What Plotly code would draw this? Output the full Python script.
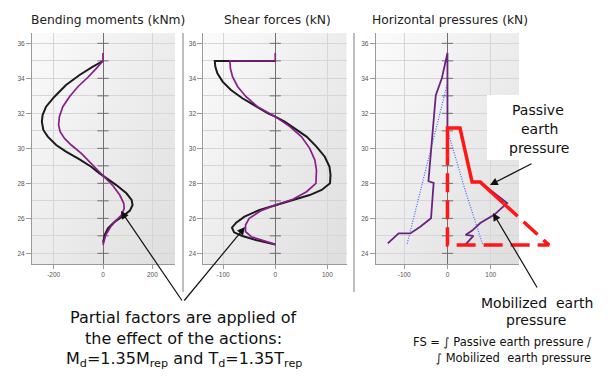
import base64
import plotly.graph_objects as go

W, H = 609, 380

# ------------------------------------------------------------------ data
depth_tick_vals = [24, 26, 28, 30, 32, 34, 36]
depth_tick_text = ["24", "26", "28", "30", "32", "34", "36"]
unit_depths = [24, 25, 26, 27, 28, 29, 30, 31, 32, 33, 34, 35, 36]
zero_x = [0] * len(unit_depths)

bm_tick_vals = [-200, 0, 200]
bm_tick_text = ["-200", "0", "200"]
sf_tick_vals = [-100, 0, 100]
sf_tick_text = ["-100", "0", "100"]
hp_tick_vals = [-100, 0, 100]
hp_tick_text = ["-100", "0", "100"]

# Bending moments (kNm) - design (black) and representative (purple)
bm_design_x = [0, -41, -95, -150, -197, -231, -245, -248, -242, -224, -190, -150, -95, -48,
               -14, 14, 54, 95, 116, 120, 109, 82, 48, 20, 7, 0]
bm_design_y = [34.99, 34.67, 34.19, 33.62, 32.95, 32.38, 31.90, 31.52, 31.05, 30.67, 30.19,
               29.81, 29.37, 28.95, 28.57, 28.29, 27.90, 27.43, 27.05, 26.76, 26.44, 26.13,
               25.81, 25.43, 25.05, 24.60]
bm_rep_x = [0, 0, -27, -61, -102, -136, -163, -177, -180, -174, -156, -129, -88, -48, -14,
            14, 41, 68, 84, 86, 75, 54, 31, 11, 3, 0]
bm_rep_y = [35.45, 34.99, 34.57, 34.06, 33.52, 32.95, 32.38, 31.81, 31.33, 30.95, 30.57,
            30.19, 29.71, 29.14, 28.67, 28.29, 27.85, 27.33, 26.86, 26.57, 26.19, 25.90,
            25.52, 25.05, 24.67, 24.48]

# Shear forces (kN)
sf_design_x = [0, -116, -115, -111, -101, -85, -63, -37, -14, 0, 18, 37, 60, 79, 95, 104,
               106, 105, 89, 66, 34, 0, -30, -59, -75, -83, -79, -63, -37, 0]
sf_design_y = [34.99, 34.99, 34.67, 34.29, 33.81, 33.33, 32.86, 32.38, 32.00, 31.81, 31.52,
               31.14, 30.67, 30.10, 29.52, 28.95, 28.48, 28.00, 27.62, 27.33, 27.05, 26.76,
               26.48, 26.10, 25.75, 25.47, 25.20, 24.99, 24.76, 24.51]
sf_rep_x = [0, 0, -87, -86, -82, -72, -56, -34, 0, 28, 50, 66, 76, 79, 78, 60, 34, 0, -27,
            -50, -57, -57, -46, -24, 0]
sf_rep_y = [35.45, 34.99, 34.99, 34.57, 34.10, 33.52, 32.95, 32.38, 31.81, 31.24, 30.67,
            30.00, 29.33, 28.76, 28.00, 27.52, 27.09, 26.76, 26.44, 26.00, 25.62, 25.24,
            24.95, 24.72, 24.51]

# Horizontal pressures (kN)
hp_net_x = [-138, -113, -86, -63, -38, -32, -44, -27, -13, -1, 0, 0, 29, 57, 76, 138, 108,
            76, 57, 42, 60, 41]
hp_net_y = [24.57, 25.14, 25.14, 25.52, 26.00, 28.02, 28.12, 33.04, 34.00, 35.45, 35.45,
            31.16, 31.16, 28.07, 28.07, 26.87, 26.20, 25.73, 25.30, 25.05, 25.00, 24.48]
hp_active_x = [-1, -36, -94]
hp_active_y = [33.62, 30.20, 24.47]
hp_passive_line_x = [2, 41, 82]
hp_passive_line_y = [30.87, 27.60, 24.47]

# Passive earth pressure diagram (red)
passive_solid_x = [0, 0, 29, 57, 76, 130]
passive_solid_y = [29.60, 31.16, 31.16, 28.07, 28.07, 26.85]
passive_dash_x = [130, 235, 0, 0]
passive_dash_y = [26.85, 24.47, 24.47, 29.60]

# ------------------------------------------------------------------ layout helpers
def fx(p):
    return p / W


def fy(p):
    return 1 - p / H


Y_TOP, Y_BOT = 33, 264
P1 = (32, 175)
P2 = (203.3, 346.7)
P3 = (375.7, 519)
P4_RIGHT = 565

y_range = [23.39, 36.59]
bm_range = [-288, 292]
sf_range = [-138, 137]
hp_range = [-166, 165.5]
hp_scale = (hp_range[1] - hp_range[0]) / (P3[1] - P3[0])
hp_wide_range = [hp_range[0], hp_range[0] + hp_scale * (P4_RIGHT - P3[0])]

BLACK = "#1b1b1b"
PURPLE = "#8c1c8c"
PURPLE_DARK = "#6a2281"
BLUE = "#4a63ff"
RED = "#ff1616"
GRID = "#d6d6d6"
AXIS = "#9a9a9a"
ZERO = "#6f6f6f"

fig = go.Figure()


def add_line(x, y, xa, ya, color, width, dash=None):
    fig.add_trace(go.Scatter(x=x, y=y, xaxis=xa, yaxis=ya, mode="lines",
                             line=dict(color=color, width=width, dash=dash),
                             hoverinfo="skip", showlegend=False))


def add_zero_ticks(xa, ya):
    fig.add_trace(go.Scatter(x=zero_x, y=unit_depths, xaxis=xa, yaxis=ya, mode="markers",
                             marker=dict(symbol="line-ew", size=8,
                                         line=dict(color=ZERO, width=1)),
                             hoverinfo="skip", showlegend=False))


# Panel 1
add_zero_ticks("x", "y")
add_line(bm_design_x, bm_design_y, "x", "y", BLACK, 2)
add_line(bm_rep_x, bm_rep_y, "x", "y", PURPLE, 1.7)
# Panel 2
add_zero_ticks("x2", "y2")
add_line(sf_design_x, sf_design_y, "x2", "y2", BLACK, 2)
add_line(sf_rep_x, sf_rep_y, "x2", "y2", PURPLE, 1.7)
# Panel 3
add_zero_ticks("x3", "y3")
add_line(hp_active_x, hp_active_y, "x3", "y3", BLUE, 1.2, "1px,1.5px")
add_line(hp_passive_line_x, hp_passive_line_y, "x3", "y3", BLUE, 1.2, "1px,1.5px")
add_line(hp_net_x, hp_net_y, "x3", "y3", PURPLE_DARK, 1.8)
# Passive diagram on a wider, invisible overlay subplot (extends past panel 3)
add_line(passive_dash_x, passive_dash_y, "x4", "y4", RED, 3.5, "19px,8px")
add_line(passive_solid_x, passive_solid_y, "x4", "y4", RED, 3.5)

tick_font = dict(family="Liberation Sans", size=6.5, color="#555555")


def xaxis(dom, rng, vals, text):
    return dict(domain=[fx(dom[0]), fx(dom[1])], range=rng, tickvals=vals, ticktext=text,
                showgrid=True, gridcolor=GRID, gridwidth=1, zeroline=True,
                zerolinecolor=ZERO, zerolinewidth=1, showline=True, linecolor=AXIS,
                linewidth=1, ticks="outside", ticklen=4, tickcolor=AXIS,
                tickfont=tick_font, fixedrange=True)


def yaxis(anchor):
    return dict(domain=[fy(Y_BOT), fy(Y_TOP)], range=y_range, anchor=anchor,
                tickvals=depth_tick_vals, ticktext=depth_tick_text, showgrid=True,
                gridcolor=GRID, gridwidth=1, minor=dict(dtick=1, showgrid=True,
                                                       gridcolor=GRID, gridwidth=1),
                zeroline=False, showline=True, linecolor=AXIS, linewidth=1,
                ticks="outside", ticklen=5, tickcolor=AXIS, tickfont=tick_font,
                fixedrange=True)


svg = ('<svg xmlns="http://www.w3.org/2000/svg" width="100" height="100" '
       'preserveAspectRatio="none"><defs><linearGradient id="g" x1="0" y1="0" x2="1" '
       'y2="1"><stop offset="0" stop-color="#fbfbfb"/><stop offset="1" '
       'stop-color="#dedede"/></linearGradient></defs><rect width="100" height="100" '
       'fill="url(#g)"/></svg>')
grad_src = "data:image/svg+xml;base64," + base64.b64encode(svg.encode()).decode()

images = []
for dom in (P1, P2, P3):
    images.append(dict(source=grad_src, xref="paper", yref="paper", x=fx(dom[0]),
                       y=fy(Y_TOP), sizex=fx(dom[1]) - fx(dom[0]),
                       sizey=fy(Y_TOP) - fy(Y_BOT), xanchor="left", yanchor="top",
                       sizing="stretch", layer="below"))

shapes = [
    dict(type="line", xref="paper", yref="paper", x0=fx(183), x1=fx(183), y0=fy(33),
         y1=fy(292), line=dict(color="#a8a8a8", width=1.5)),
    dict(type="line", xref="paper", yref="paper", x0=fx(354), x1=fx(354), y0=fy(33),
         y1=fy(292), line=dict(color="#a8a8a8", width=1.5)),
    dict(type="rect", xref="paper", yref="paper", x0=fx(487), x1=fx(592), y0=fy(160),
         y1=fy(95), fillcolor="white", line=dict(width=0), layer="above"),
]

FONT = "DejaVu Sans"


def text(s, x, y, size, xanchor="center", color="#111111"):
    return dict(text=s, xref="paper", yref="paper", x=fx(x), y=fy(y), xanchor=xanchor,
                yanchor="middle", showarrow=False, font=dict(family=FONT, size=size,
                                                             color=color))


def arrow(tip, tail):
    return dict(text="", xref="paper", yref="paper", x=fx(tip[0]), y=fy(tip[1]),
                ax=tail[0] - tip[0], ay=tail[1] - tip[1], showarrow=True, arrowhead=2,
                arrowsize=1.3, arrowwidth=1.2, arrowcolor="#111111", standoff=0)


annotations = [
    text("Bending moments (kNm)", 108, 20, 12.3, color="#222222"),
    text("Shear forces (kN)", 277.5, 20, 12.3, color="#222222"),
    text("Horizontal pressures (kN)", 449.5, 20, 12.3, color="#222222"),
    text("Passive", 538, 110, 14),
    text("earth", 539, 129, 14),
    text("pressure", 539, 148, 14),
    text("Partial factors are applied of", 183, 317, 16),
    text("the effect of the actions:", 183, 338.5, 16),
    text("M<sub>d</sub>=1.35M<sub>rep</sub> and T<sub>d</sub>=1.35T<sub>rep</sub>", 184,
         359, 16),
    text("Mobilized\u00a0 earth", 536.5, 303, 14),
    text("pressure", 536, 320, 14),
    text("FS = \u222b Passive earth pressure /", 593, 342, 11.5, xanchor="right"),
    text("\u222b Mobilized\u00a0 earth pressure", 593, 358, 11.5, xanchor="right"),
    arrow((121, 211), (183, 302)),
    arrow((245, 227), (183, 302)),
    arrow((490, 185), (533, 163)),
    arrow((493, 213), (538, 289)),
]

fig.update_layout(
    width=W, height=H, margin=dict(l=0, r=0, t=0, b=0),
    paper_bgcolor="white", plot_bgcolor="rgba(0,0,0,0)", showlegend=False,
    xaxis=xaxis(P1, bm_range, bm_tick_vals, bm_tick_text), yaxis=yaxis("x"),
    xaxis2=xaxis(P2, sf_range, sf_tick_vals, sf_tick_text), yaxis2=yaxis("x2"),
    xaxis3=xaxis(P3, hp_range, hp_tick_vals, hp_tick_text), yaxis3=yaxis("x3"),
    xaxis4=dict(domain=[fx(P3[0]), fx(P4_RIGHT)], range=hp_wide_range, visible=False,
                anchor="y4", fixedrange=True),
    yaxis4=dict(domain=[fy(Y_BOT), fy(Y_TOP)], range=y_range, visible=False, anchor="x4",
                fixedrange=True),
    images=images, shapes=shapes, annotations=annotations,
)
fig.update_layout(xaxis=dict(anchor="y"), xaxis2=dict(anchor="y2"),
                  xaxis3=dict(anchor="y3"))

fig.write_html("out.html",
               config={"displayModeBar": False, "staticPlot": True},
               post_script="document.body.style.margin='0px';"
                           "document.body.style.padding='0px';")
